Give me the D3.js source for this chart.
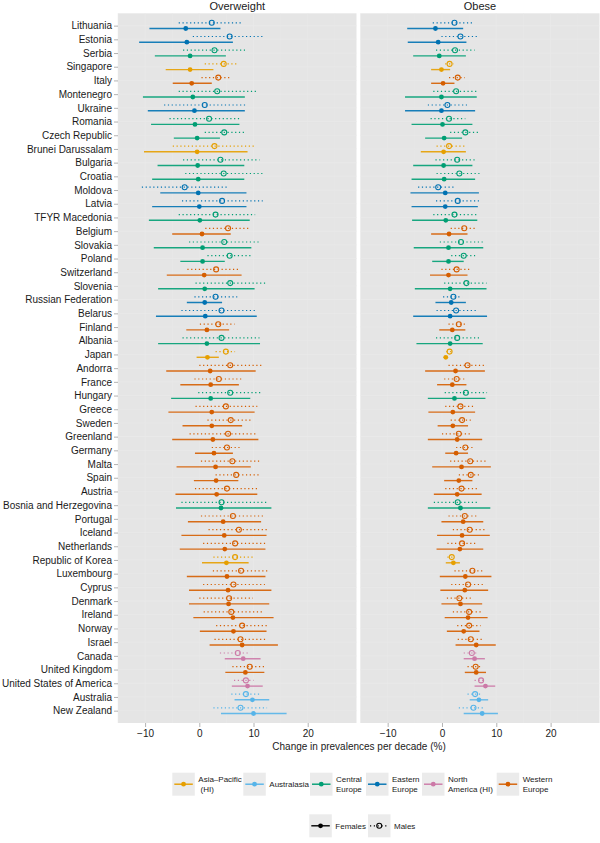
<!DOCTYPE html>
<html><head><meta charset="utf-8">
<script src="https://cdn.jsdelivr.net/npm/d3@7"></script>
<style>body{margin:0;background:#fff}svg{display:block;font-family:"Liberation Sans",Arial,Helvetica,sans-serif}</style>
</head><body><svg id="c" width="600" height="843"></svg>
<script>
const countries = ["Lithuania","Estonia","Serbia","Singapore","Italy","Montenegro","Ukraine","Romania","Czech Republic","Brunei Darussalam","Bulgaria","Croatia","Moldova","Latvia","TFYR Macedonia","Belgium","Slovakia","Poland","Switzerland","Slovenia","Russian Federation","Belarus","Finland","Albania","Japan","Andorra","France","Hungary","Greece","Sweden","Greenland","Germany","Malta","Spain","Austria","Bosnia and Herzegovina","Portugal","Iceland","Netherlands","Republic of Korea","Luxembourg","Cyprus","Denmark","Ireland","Norway","Israel","Canada","United Kingdom","United States of America","Australia","New Zealand"];
const countryRegion = ["EE","EE","CE","AP","WE","CE","EE","CE","CE","AP","CE","CE","EE","EE","CE","WE","CE","CE","WE","CE","EE","EE","WE","CE","AP","WE","WE","CE","WE","WE","WE","WE","WE","WE","WE","CE","WE","WE","WE","AP","WE","WE","WE","WE","WE","WE","NA","WE","NA","AU","AU"];

const regionCodes = ["AP","AU","CE","EE","NA","WE"];
const regionLabels = [["Asia–Pacific"," (HI)"],["Australasia"],["Central","Europe"],["Eastern","Europe"],["North","America (HI)"],["Western","Europe"]];
const regionColors = ["#E69F00","#56B4E9","#009E73","#0072B2","#CC79A7","#D55E00"];

// Overweight, males
const ovM   = [2.3,5.6,2.8,4.5,3.5,3.3,1.0,1.8,4.6,2.8,3.9,4.5,-2.7,4.2,3.0,5.3,4.6,5.6,3.1,5.7,3.0,4.1,3.5,4.1,4.9,5.7,3.6,5.7,4.9,5.8,5.3,5.1,6.1,6.8,5.1,4.1,6.2,7.3,6.6,6.6,7.7,6.3,5.5,5.9,7.9,7.6,7.1,9.3,8.6,8.6,7.6];
const ovMlo = [-3.8,-1.2,-3.0,1.0,0.4,-3.8,-6.5,-5.5,1.0,-4.9,-3.0,-2.6,-10.6,-3.2,-3.8,1.1,-1.9,1.5,-2.2,-0.7,-0.9,-3.3,0.1,-3.1,3.0,0.0,-0.9,-0.2,-0.7,1.5,-1.8,2.3,0.3,3.0,-0.8,-3.3,0.3,1.7,0.7,2.6,2.5,0.7,0.0,0.8,3.1,2.8,3.8,6.1,6.4,5.9,2.6];
const ovMhi = [7.9,12.1,8.6,7.3,6.0,10.5,8.5,7.8,8.3,10.2,11.1,11.7,5.4,11.7,10.3,9.2,11.3,9.5,7.6,12.5,7.0,10.7,6.5,11.1,6.6,11.6,7.9,11.3,10.7,9.7,10.7,7.9,11.4,11.0,10.7,12.5,11.8,12.5,12.2,10.0,13.0,12.1,9.9,11.6,12.8,12.5,9.1,12.4,10.0,11.3,12.5];
// Overweight, females
const ovF   = [-2.5,-2.3,-1.7,-1.7,-1.4,-1.2,-0.9,-0.8,-0.4,-0.4,-0.3,-0.2,-0.2,0.0,0.1,0.5,0.6,0.6,0.9,1.0,1.0,1.1,1.4,1.4,1.5,2.0,2.1,2.1,2.3,2.3,2.5,2.7,3.0,3.1,3.2,4.0,4.4,4.6,4.7,5.0,5.1,5.3,5.4,6.2,6.3,7.9,8.1,8.5,8.9,9.8,10.0];
const ovFlo = [-9.2,-11.1,-8.2,-6.2,-4.9,-10.4,-9.5,-8.9,-4.7,-10.2,-7.7,-8.7,-7.2,-8.7,-9.3,-5.0,-8.4,-3.5,-6.0,-7.6,-2.3,-8.0,-2.4,-7.6,-0.5,-6.1,-3.5,-5.2,-5.7,-3.1,-5.0,-0.8,-4.2,-1.0,-4.4,-4.3,-2.1,-3.3,-3.6,0.5,-2.3,-1.9,-1.9,-1.1,0.1,1.9,4.7,4.8,6.0,6.5,4.0];
const ovFhi = [3.9,6.2,4.9,2.6,2.3,8.4,8.4,7.4,3.8,8.9,8.3,8.3,8.7,8.7,9.3,5.8,9.6,4.7,7.8,10.2,4.2,10.6,5.5,11.2,3.6,10.4,7.3,9.4,10.2,7.9,10.9,6.2,9.5,7.2,10.7,13.3,11.4,12.4,12.2,9.1,12.2,13.3,12.9,13.7,12.4,14.5,11.3,12.0,11.7,12.9,16.1];
// Obese, males
const obM   = [2.3,3.4,2.4,1.4,2.9,2.6,1.0,1.3,4.3,1.3,2.8,3.2,-0.7,2.9,2.3,4.1,3.5,4.0,2.7,4.5,2.1,2.6,3.1,2.8,1.4,4.7,2.7,4.4,3.4,3.7,3.1,4.3,5.2,5.3,3.6,2.9,4.2,5.1,3.7,1.8,5.6,4.8,3.2,5.0,5.0,5.3,5.5,6.2,7.2,6.1,5.8];
const obMlo = [-1.7,-0.1,-1.1,0.6,1.3,-1.6,-2.6,-2.1,1.5,-1.0,-1.2,-1.0,-4.4,-1.1,-1.6,1.6,-0.4,1.7,-0.1,0.4,0.2,-1.0,1.2,-1.1,0.8,1.2,0.4,0.5,0.6,1.6,0.0,2.6,1.5,3.1,0.6,-1.5,1.2,2.0,1.0,1.0,2.3,1.7,0.9,2.0,2.8,2.9,4.0,4.7,6.0,4.7,3.1];
const obMhi = [5.6,6.9,6.0,2.1,4.2,6.4,4.6,4.3,6.9,4.4,6.0,6.9,2.6,6.8,6.4,6.1,7.5,6.1,5.2,8.2,3.7,6.7,4.7,6.9,2.0,8.2,4.1,8.3,5.9,5.3,5.5,6.1,8.4,6.8,6.8,6.6,6.7,8.3,6.5,2.1,7.8,8.0,5.3,7.3,7.1,7.5,6.7,7.5,7.9,7.4,7.7];
// Obese, females
const obF   = [-1.2,-0.7,-0.5,-0.1,0.2,-0.1,-0.1,0.1,0.4,0.3,0.3,0.4,0.6,0.6,0.7,1.3,1.2,1.2,1.2,1.5,1.7,1.5,1.9,1.5,0.7,2.5,1.9,2.3,2.0,2.0,2.8,2.6,3.6,3.1,2.8,3.4,3.9,3.7,3.3,2.1,4.3,4.2,3.4,4.8,4.0,6.3,6.0,6.3,8.0,6.8,7.4];
const obFlo = [-6.4,-6.3,-5.3,-2.0,-2.0,-6.8,-6.8,-5.6,-3.1,-3.9,-5.3,-5.6,-5.8,-5.6,-5.5,-2.0,-5.2,-1.8,-2.2,-5.0,-1.2,-5.3,-0.5,-4.7,0.3,-3.1,-0.9,-2.6,-2.5,-0.8,-2.6,0.6,-1.8,0.4,-1.5,-2.6,-0.1,-0.9,-1.0,0.7,-0.4,-0.3,-0.1,0.5,0.9,2.5,4.0,4.2,6.0,5.1,4.0];
const obFhi = [3.9,4.5,4.4,1.5,2.3,6.4,6.1,5.6,3.7,4.4,5.6,6.1,6.8,6.6,6.5,4.7,7.6,4.0,4.7,8.2,4.4,8.3,4.3,7.5,1.1,7.9,4.5,8.0,6.1,4.8,7.4,4.8,9.0,5.6,7.3,8.9,7.6,8.8,7.6,3.3,9.1,8.5,7.4,8.4,6.9,9.9,7.9,8.1,9.8,8.5,10.3];

const panelTitles = ["Overweight","Obese"];
const xTicks = [-10,0,10,20];
const sexLabels = ["Females","Males"];

const svg = d3.select("#c");
const colorOf = d3.scaleOrdinal().domain(regionCodes).range(regionColors);
const y = d3.scalePoint().domain(countries).range([13.3,723]).padding(0.9);
const panelTop = 13.3, panelBottom = 723;
const panels = [
  {title: panelTitles[0], range:[118,356.5], M:ovM, Mlo:ovMlo, Mhi:ovMhi, F:ovF, Flo:ovFlo, Fhi:ovFhi},
  {title: panelTitles[1], range:[360.5,599.5], M:obM, Mlo:obMlo, Mhi:obMhi, F:obF, Flo:obFlo, Fhi:obFhi}
];
const dM = -2.85, dF = 2.85;

panels.forEach((p,pi) => {
  const x = d3.scaleLinear().domain([-15,29]).range(p.range);
  const g = svg.append("g");
  g.append("rect").attr("x",p.range[0]).attr("y",panelTop).attr("width",p.range[1]-p.range[0]).attr("height",panelBottom-panelTop).attr("fill","#E5E5E5");
  g.selectAll(".mn").data([-15,-5,5,15,25]).join("line")
    .attr("x1",d=>x(d)).attr("x2",d=>x(d)).attr("y1",panelTop).attr("y2",panelBottom)
    .attr("stroke","#E9E9E9").attr("stroke-width",0.5);
  g.selectAll(".mj").data(xTicks).join("line")
    .attr("x1",d=>x(d)).attr("x2",d=>x(d)).attr("y1",panelTop).attr("y2",panelBottom)
    .attr("stroke","#EAEAEA").attr("stroke-width",0.7);
  g.selectAll(".hg").data(countries).join("line")
    .attr("x1",p.range[0]).attr("x2",p.range[1]).attr("y1",d=>y(d)).attr("y2",d=>y(d))
    .attr("stroke","#EAEAEA").attr("stroke-width",0.7);
  svg.append("text").attr("x",(p.range[0]+p.range[1])/2).attr("y",10).attr("text-anchor","middle")
    .attr("font-size",11).attr("fill","#1a1a1a").text(p.title);
  const ax = svg.append("g").attr("transform",`translate(0,${panelBottom})`)
    .call(d3.axisBottom(x).tickValues(xTicks).tickSize(4).tickPadding(3).tickFormat(d=>d<0?"\u2212"+Math.abs(d):d));
  ax.select(".domain").remove();
  ax.selectAll(".tick line").attr("stroke","#7f7f7f").attr("stroke-width",0.6);
  ax.selectAll(".tick text").attr("font-size",10).attr("fill","#1a1a1a").attr("font-family","Liberation Sans, Arial, sans-serif");

  const idx = d3.range(countries.length);
  g.selectAll(".ml").data(idx).join("line")
    .attr("x1",i=>x(p.Mlo[i])).attr("x2",i=>x(p.Mhi[i]))
    .attr("y1",i=>y(countries[i])+dM).attr("y2",i=>y(countries[i])+dM)
    .attr("stroke",i=>colorOf(countryRegion[i])).attr("stroke-width",1.2)
    .attr("stroke-dasharray","1.2,2.6");
  g.selectAll(".fl").data(idx).join("line")
    .attr("x1",i=>x(p.Flo[i])).attr("x2",i=>x(p.Fhi[i]))
    .attr("y1",i=>y(countries[i])+dF).attr("y2",i=>y(countries[i])+dF)
    .attr("stroke",i=>colorOf(countryRegion[i])).attr("stroke-width",1.4).attr("stroke-opacity",0.9);
  g.selectAll(".fp").data(idx).join("circle")
    .attr("cx",i=>x(p.F[i])).attr("cy",i=>y(countries[i])+dF).attr("r",2.4)
    .attr("fill",i=>colorOf(countryRegion[i]));
  g.selectAll(".mp").data(idx).join("circle")
    .attr("cx",i=>x(p.M[i])).attr("cy",i=>y(countries[i])+dM).attr("r",2.5)
    .attr("fill","none").attr("stroke",i=>colorOf(countryRegion[i])).attr("stroke-width",1.1);
});

const ya = svg.append("g").attr("transform","translate(118,0)")
  .call(d3.axisLeft(y).tickSize(4).tickPadding(2));
ya.select(".domain").remove();
ya.selectAll(".tick line").attr("stroke","#7f7f7f").attr("stroke-width",0.6);
ya.selectAll(".tick text").attr("font-size",10).attr("fill","#1a1a1a").attr("font-family","Liberation Sans, Arial, sans-serif");

svg.append("text").attr("x",359).attr("y",750).attr("text-anchor","middle").attr("font-size",10).attr("fill","#1a1a1a")
  .text("Change in prevalences per decade (%)");

const legX = [172.3,243.3,310,366,422,496.7];
const keyW = 22.5, keyH = 23;
regionCodes.forEach((r,i) => {
  const gx = legX[i], gy = 772.7;
  const lg = svg.append("g");
  lg.append("rect").attr("x",gx).attr("y",gy).attr("width",keyW).attr("height",keyH).attr("fill","#EBEBEB");
  lg.append("line").attr("x1",gx+2).attr("x2",gx+keyW-2).attr("y1",gy+keyH/2).attr("y2",gy+keyH/2)
    .attr("stroke",regionColors[i]).attr("stroke-width",1.4);
  lg.append("circle").attr("cx",gx+keyW/2).attr("cy",gy+keyH/2).attr("r",2.4).attr("fill",regionColors[i]);
  const lines = regionLabels[i];
  const t = lg.append("text").attr("x",gx+keyW+3.5).attr("font-size",8).attr("fill","#1a1a1a");
  if (lines.length === 1) {
    t.attr("y",gy+keyH/2+3).text(lines[0]);
  } else {
    t.attr("y",gy+keyH/2-2);
    lines.forEach((s,k)=>t.append("tspan").attr("x",gx+keyW+3.5).attr("dy",k===0?0:10).attr("xml:space","preserve").text(s));
  }
});

const sexX = [309.3,368];
sexLabels.forEach((s,i) => {
  const gx = sexX[i], gy = 814.3;
  const lg = svg.append("g");
  lg.append("rect").attr("x",gx).attr("y",gy).attr("width",keyW).attr("height",keyH).attr("fill","#EBEBEB");
  const ln = lg.append("line").attr("x1",gx+2).attr("x2",gx+keyW-2).attr("y1",gy+keyH/2).attr("y2",gy+keyH/2)
    .attr("stroke","#000");
  if (i===0) {
    ln.attr("stroke-width",1.4);
    lg.append("circle").attr("cx",gx+keyW/2).attr("cy",gy+keyH/2).attr("r",2.4).attr("fill","#000");
  } else {
    ln.attr("stroke-width",1.2).attr("stroke-dasharray","1.2,2.6");
    lg.append("circle").attr("cx",gx+keyW/2).attr("cy",gy+keyH/2).attr("r",2.5).attr("fill","none").attr("stroke","#000").attr("stroke-width",1.1);
  }
  lg.append("text").attr("x",gx+keyW+3.5).attr("y",gy+keyH/2+3).attr("font-size",8).attr("fill","#1a1a1a").text(s);
});
</script></body></html>
